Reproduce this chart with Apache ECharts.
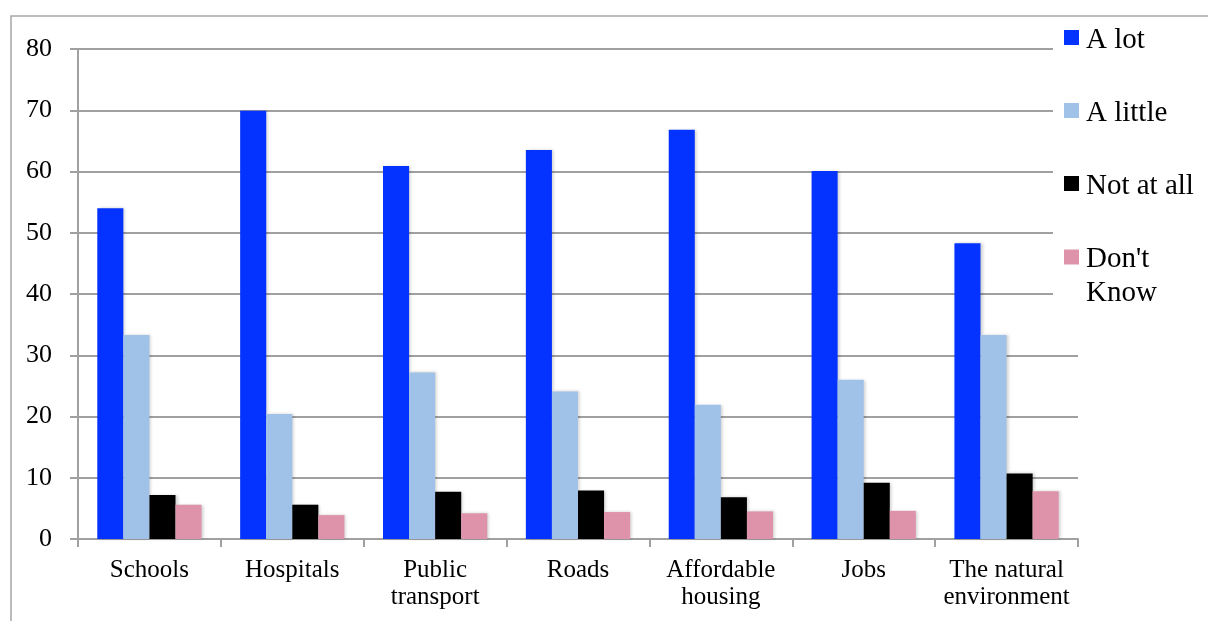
<!DOCTYPE html>
<html>
<head>
<meta charset="utf-8">
<script src="https://cdn.jsdelivr.net/npm/echarts@6/dist/echarts.min.js"></script>
<style>
  html, body { margin: 0; padding: 0; background: #ffffff; }
  #chart { width: 1208px; height: 621px; }
</style>
</head>
<body>
<div id="chart"></div>
<script>
// Survey categories and responses (percent)
const categories = ['Schools', 'Hospitals', 'Public\ntransport', 'Roads', 'Affordable\nhousing', 'Jobs', 'The natural\nenvironment'];
const aLot      = [54.0, 69.9, 60.9, 63.5, 66.8, 60.1, 48.3];
const aLittle   = [33.3, 20.4, 27.2, 24.1, 21.9, 26.0, 33.3];
const notAtAll  = [7.2, 5.6, 7.7, 7.9, 6.8, 9.2, 10.7];
const dontKnow  = [5.6, 3.9, 4.2, 4.4, 4.5, 4.6, 7.8];
const seriesNames = ['A lot', 'A little', 'Not at all', "Don't Know"];
const yTicks = { min: 0, max: 80, step: 10 };

const FONT = 'Liberation Serif';
const colors = ['#0433ff', '#a0c2e8', '#000000', '#de93ab'];
const LH = 34;           // legend line height
const ICON = 15;         // legend swatch size
const DROP = 6;          // extra top padding: labels sit a little below their swatch centre

const chart = echarts.init(document.getElementById('chart'), null, { renderer: 'canvas' });

const values = [aLot, aLittle, notAtAll, dontKnow];

const legendText = {
  color: '#000',
  rich: { t: { fontFamily: FONT, fontSize: 29, color: '#000', lineHeight: LH } }
};

// single-line entries
const legendMain = {
  orient: 'vertical',
  left: 1064,
  top: 26,
  padding: 0,
  itemWidth: ICON,
  itemHeight: ICON,
  itemGap: 44,
  icon: 'rect',
  z: 10,
  data: seriesNames.slice(0, 3),
  formatter: n => '{t|' + n + '}',
  textStyle: Object.assign({ padding: [DROP, 0, 0, 2] }, legendText)
};

// two-line entry: top padding keeps its first line level with the swatch
const legendTwoLine = {
  orient: 'vertical',
  left: 1064,
  top: 245,
  padding: 0,
  itemWidth: ICON,
  itemHeight: ICON,
  icon: 'rect',
  z: 10,
  data: seriesNames.slice(3),
  formatter: () => "{t|Don't}\n{t|Know}",
  textStyle: Object.assign({ padding: [LH + DROP - 1, 0, 0, 2] }, legendText)
};

chart.setOption({
  animation: false,
  backgroundColor: '#ffffff',
  graphic: [
    // outer chart frame
    { type: 'rect', shape: { x: 11, y: 16, width: 1400, height: 800 },
      style: { fill: 'none', stroke: '#a6a6a6', lineWidth: 1.5 }, z: 1, silent: true },
    // white backing behind the legend
    { type: 'rect', shape: { x: 1053, y: 30, width: 155, height: 290 },
      style: { fill: '#ffffff' }, z: 5, silent: true }
  ],
  grid: { left: 78, right: 130, top: 49, bottom: 82, containLabel: false },
  legend: [legendMain, legendTwoLine],
  xAxis: {
    type: 'category',
    data: categories,
    axisLine: { lineStyle: { color: '#a0a0a0', width: 2 } },
    axisTick: { show: true, interval: 0, alignWithLabel: false, length: 8, lineStyle: { color: '#a0a0a0', width: 2 } },
    axisLabel: { interval: 0, margin: 18, fontFamily: FONT, fontSize: 25, color: '#000', lineHeight: 27 }
  },
  yAxis: {
    type: 'value',
    min: yTicks.min, max: yTicks.max, interval: yTicks.step,
    axisLine: { show: true, lineStyle: { color: '#a0a0a0', width: 2 } },
    axisTick: { show: true, length: 8, lineStyle: { color: '#a0a0a0', width: 2 } },
    splitLine: { lineStyle: { color: '#a0a0a0', width: 2 } },
    axisLabel: { margin: 26, fontFamily: FONT, fontSize: 26, color: '#000' }
  },
  series: seriesNames.map((n, i) => ({
    name: n,
    type: 'bar',
    data: values[i],
    barGap: '0%',
    barCategoryGap: '27%',
    itemStyle: {
      color: colors[i],
      shadowColor: 'rgba(0,0,0,0.18)',
      shadowBlur: 3,
      shadowOffsetX: 2,
      shadowOffsetY: 0
    }
  }))
});
</script>
</body>
</html>
